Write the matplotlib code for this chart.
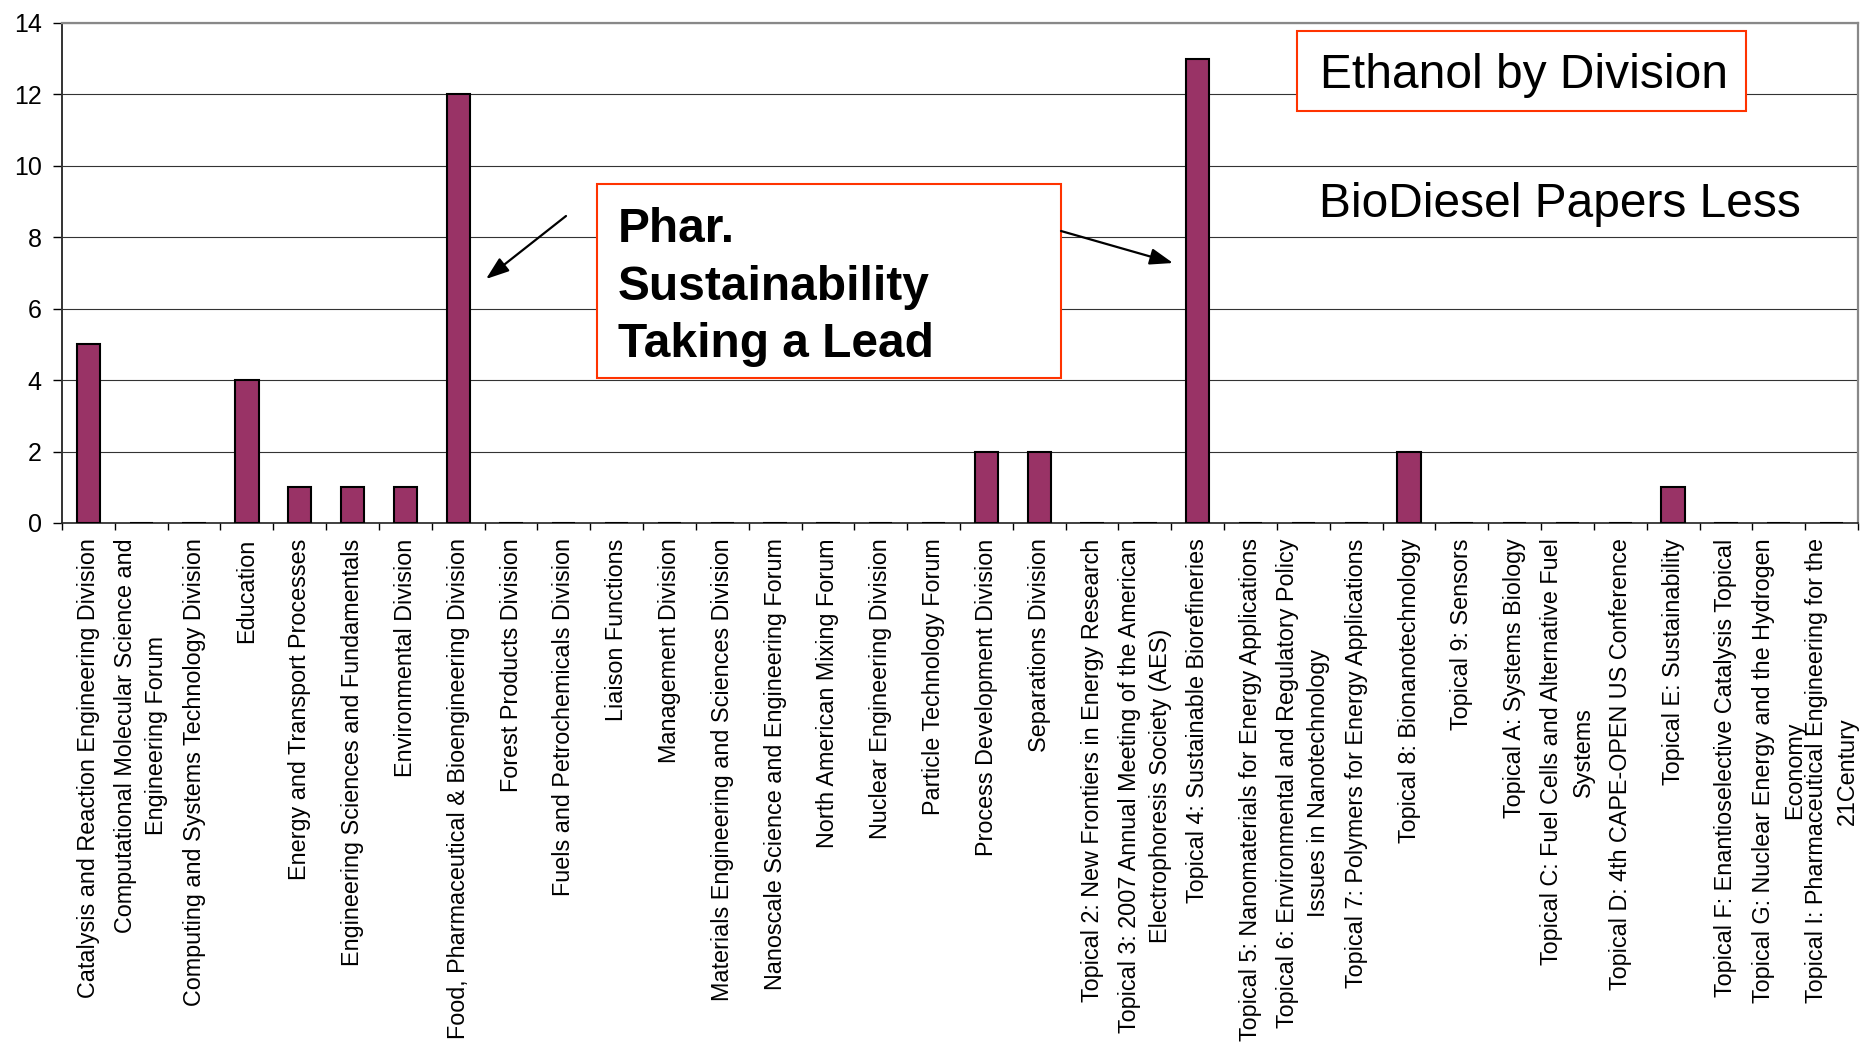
import matplotlib
matplotlib.use('Agg')
import matplotlib.pyplot as plt
from matplotlib.patches import Rectangle, FancyArrowPatch
import numpy as np

categories = [
    "Catalysis and Reaction Engineering Division",
    "Computational Molecular Science and\nEngineering Forum",
    "Computing and Systems Technology Division",
    "Education",
    "Energy and Transport Processes",
    "Engineering Sciences and Fundamentals",
    "Environmental Division",
    "Food, Pharmaceutical & Bioengineering Division",
    "Forest Products Division",
    "Fuels and Petrochemicals Division",
    "Liaison Functions",
    "Management Division",
    "Materials Engineering and Sciences Division",
    "Nanoscale Science and Engineering Forum",
    "North American Mixing Forum",
    "Nuclear Engineering Division",
    "Particle Technology Forum",
    "Process Development Division",
    "Separations Division",
    "Topical 2: New Frontiers in Energy Research",
    "Topical 3: 2007 Annual Meeting of the American\nElectrophoresis Society (AES)",
    "Topical 4: Sustainable Biorefineries",
    "Topical 5: Nanomaterials for Energy Applications",
    "Topical 6: Environmental and Regulatory Policy\nIssues in Nanotechnology",
    "Topical 7: Polymers for Energy Applications",
    "Topical 8: Bionanotechnology",
    "Topical 9: Sensors",
    "Topical A: Systems Biology",
    "Topical C: Fuel Cells and Alternative Fuel\nSystems",
    "Topical D: 4th CAPE-OPEN US Conference",
    "Topical E: Sustainability",
    "Topical F: Enantioselective Catalysis Topical",
    "Topical G: Nuclear Energy and the Hydrogen\nEconomy",
    "Topical I: Pharmaceutical Engineering for the\n21Century",
]
values = [5, 0, 0, 4, 1, 1, 1, 12, 0, 0, 0, 0, 0, 0, 0, 0, 0, 2, 2, 0, 0, 13,
          0, 0, 0, 2, 0, 0, 0, 0, 1, 0, 0, 0]
yticks = [0, 2, 4, 6, 8, 10, 12, 14]

title_text = "Ethanol by Division"
note_text = "BioDiesel Papers Less"
box_lines = ["Phar.", "Sustainability", "Taking a Lead"]

plt.rcParams['font.family'] = ['Liberation Sans', 'DejaVu Sans']

W, H = 1860, 1045
fig = plt.figure(figsize=(W / 100, H / 100), dpi=100)


def fx(px):
    return px / W


def fy(py):
    return 1 - py / H


ax = fig.add_axes([fx(62), fy(523), fx(1858) - fx(62), fy(23) - fy(523)])
x = np.arange(len(categories))
ax.bar(x, values, width=0.44, color='#993366', edgecolor='black',
       linewidth=1.5, zorder=3)

ax.set_xlim(-0.5, len(categories) - 0.5)
ax.set_ylim(0, 14)
ax.set_yticks(yticks)
ax.set_yticklabels([str(v) for v in yticks], fontsize=18)
ax.tick_params(axis='y', length=6.5, width=1.0, pad=8, direction='out')
ax.yaxis.grid(True, color='#333333', linewidth=0.8, zorder=0)
ax.set_axisbelow(True)

ax.set_xticks(x)
ax.set_xticklabels(categories, rotation=90, fontsize=16.8, ha='center',
                   va='top', multialignment='center', linespacing=1.45)
ax.tick_params(axis='x', which='major', length=0, pad=11)
ax.set_xticks(np.arange(-0.5, len(categories), 1.0), minor=True)
ax.tick_params(axis='x', which='minor', length=5, width=1.0, direction='out')

for s in ['top', 'right']:
    ax.spines[s].set_color('#888888')
    ax.spines[s].set_linewidth(1.6)
ax.spines['left'].set_color('#333333')
ax.spines['left'].set_linewidth(1.4)
ax.spines['bottom'].set_color('#222222')
ax.spines['bottom'].set_linewidth(1.2)

red = '#FF3300'
# "Ethanol by Division" box
fig.add_artist(Rectangle((fx(1297), fy(111)), fx(1746) - fx(1297), fy(31) - fy(111),
                         transform=fig.transFigure, facecolor='white',
                         edgecolor=red, linewidth=1.5, zorder=5))
fig.text(fx(1320), fy(88), title_text, fontsize=34.5, ha='left', va='baseline',
         zorder=6)

# BioDiesel note
fig.text(fx(1319), fy(217), note_text, fontsize=34.5, ha='left', va='baseline',
         zorder=6)

# Phar. box
fig.add_artist(Rectangle((fx(597), fy(378)), fx(1061) - fx(597), fy(184) - fy(378),
                         transform=fig.transFigure, facecolor='white',
                         edgecolor=red, linewidth=1.5, zorder=5))
for i, line in enumerate(box_lines):
    fig.text(fx(618), fy(242 + 57.5 * i), line, fontsize=34.5, fontweight='bold',
             ha='left', va='baseline', zorder=6)

# arrows
for (x0, y0), (x1, y1) in [((566, 216), (486, 279)), ((1061, 231), (1173, 263))]:
    fig.add_artist(FancyArrowPatch((fx(x0), fy(y0)), (fx(x1), fy(y1)),
                                   transform=fig.transFigure,
                                   arrowstyle='-|>,head_length=0.7,head_width=0.25',
                                   mutation_scale=20, color='black', linewidth=1.6,
                                   shrinkA=0, shrinkB=0, zorder=6))

fig.savefig('out.png', dpi=100)
